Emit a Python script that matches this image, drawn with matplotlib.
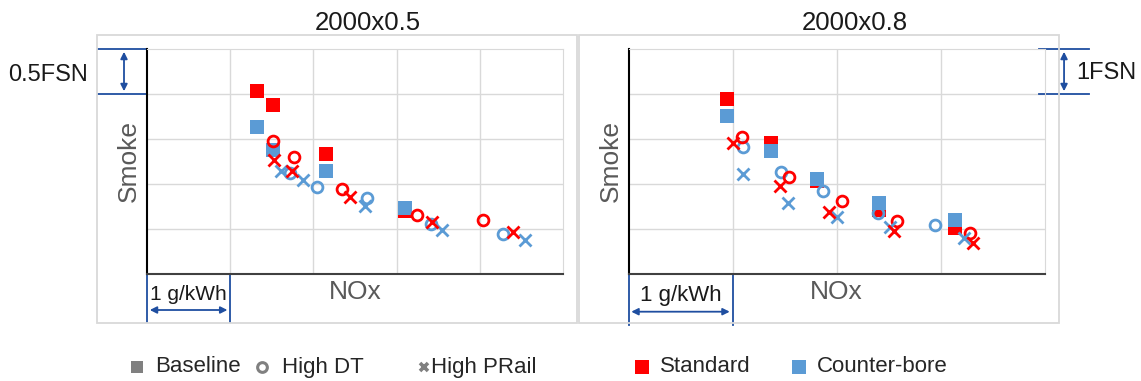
import matplotlib as mpl
mpl.use('Agg')
import matplotlib.pyplot as plt
from matplotlib.lines import Line2D
from matplotlib.patches import Rectangle

plt.rcParams['font.family'] = ['Liberation Sans', 'DejaVu Sans']

RED = '#ff0000'
BLUE = '#5b9bd5'
GRID = '#d9d9d9'
BRACKET = '#1f4ea0'
LABEL = '#595959'

titles = ['2000x0.5', '2000x0.8']
smoke_units = ['0.5FSN', '1FSN']
smoke_step = [0.5, 1.0]
nox_span = [5, 4]

# 2000x0.5 -- NOx (g/kWh, relative to axis origin), smoke (FSN)
a_std_base_nox = [1.32, 1.52, 2.15, 3.10]
a_std_base_smoke = [2.03, 1.88, 1.33, 0.70]
a_cb_base_nox = [1.32, 1.51, 2.15, 3.10]
a_cb_base_smoke = [1.63, 1.38, 1.14, 0.73]
a_std_dt_nox = [1.51, 1.77, 2.34, 3.25, 4.04]
a_std_dt_smoke = [1.48, 1.30, 0.95, 0.66, 0.60]
a_cb_dt_nox = [1.72, 2.04, 2.64, 3.41, 4.28]
a_cb_dt_smoke = [1.12, 0.97, 0.84, 0.56, 0.45]
a_std_pr_nox = [1.53, 1.74, 2.44, 3.42, 4.40]
a_std_pr_smoke = [1.27, 1.14, 0.86, 0.58, 0.47]
a_cb_pr_nox = [1.61, 1.88, 2.62, 3.54, 4.54]
a_cb_pr_smoke = [1.14, 1.04, 0.76, 0.49, 0.38]

# 2000x0.8
b_std_base_nox = [0.95, 1.37, 1.81, 2.41, 3.14]
b_std_base_smoke = [3.88, 2.91, 2.07, 1.42, 1.02]
b_cb_base_nox = [0.95, 1.37, 1.81, 2.41, 3.14]
b_cb_base_smoke = [3.51, 2.73, 2.11, 1.58, 1.20]
b_std_dt_nox = [1.09, 1.54, 2.05, 2.58, 3.28]
b_std_dt_smoke = [3.05, 2.16, 1.63, 1.18, 0.92]
b_cb_dt_nox = [1.10, 1.47, 1.87, 2.40, 2.95]
b_cb_dt_smoke = [2.83, 2.27, 1.84, 1.36, 1.09]
b_std_pr_nox = [1.00, 1.46, 1.93, 2.55, 3.31]
b_std_pr_smoke = [2.92, 1.96, 1.38, 0.96, 0.70]
b_cb_pr_nox = [1.10, 1.53, 2.00, 2.51, 3.23]
b_cb_pr_smoke = [2.22, 1.58, 1.27, 1.05, 0.79]

panels = [
    [(a_std_base_nox, a_std_base_smoke, 's', RED), (a_cb_base_nox, a_cb_base_smoke, 's', BLUE),
     (a_cb_dt_nox, a_cb_dt_smoke, 'o', BLUE), (a_cb_pr_nox, a_cb_pr_smoke, 'x', BLUE),
     (a_std_dt_nox, a_std_dt_smoke, 'o', RED), (a_std_pr_nox, a_std_pr_smoke, 'x', RED)],
    [(b_std_base_nox, b_std_base_smoke, 's', RED), (b_cb_base_nox, b_cb_base_smoke, 's', BLUE),
     (b_cb_dt_nox, b_cb_dt_smoke, 'o', BLUE), (b_cb_pr_nox, b_cb_pr_smoke, 'x', BLUE),
     (b_std_dt_nox, b_std_dt_smoke, 'o', RED), (b_std_pr_nox, b_std_pr_smoke, 'x', RED)],
]

W, H = 1141, 381
fig = plt.figure(figsize=(W / 100, H / 100), dpi=100)

def fx(px): return px / W
def fy(py): return 1 - py / H

# panel frames
for x0, x1 in [(97, 577), (579, 1059)]:
    fig.add_artist(Rectangle((fx(x0), fy(323)), fx(x1 - x0), (323 - 34.5) / H,
                             transform=fig.transFigure, fill=False, ec=GRID, lw=1.3))

axes_left = [147, 628.5]
title_x = [368, 855]
gkwh_size = [15, 16]
for i in range(2):
    ax = fig.add_axes([fx(axes_left[i]), fy(274), fx(416), 225 / H])
    step = smoke_step[i]
    ax.set_xlim(0, nox_span[i])
    ax.set_ylim(0, 5 * step)
    ax.set_xticks(range(1, nox_span[i]))
    ax.set_yticks([step * k for k in range(1, 5)])
    ax.tick_params(length=0, labelleft=False, labelbottom=False)
    ax.grid(True, color=GRID, lw=1)
    ax.set_axisbelow(True)
    ax.spines['left'].set_color('black')
    ax.spines['bottom'].set_color('#404040')
    for s in ['top', 'right']:
        ax.spines[s].set_color(GRID)
    ax.spines['left'].set_linewidth(1.5)
    ax.spines['bottom'].set_linewidth(1.5)

    for nox, smoke, m, c in panels[i]:
        if m == 's':
            ax.plot(nox, smoke, ls='none', marker='s', ms=9.6, mew=0, color=c, zorder=3)
        elif m == 'o':
            ax.plot(nox, smoke, ls='none', marker='o', ms=7.8, mew=2.0, mfc='none', mec=c, zorder=4)
        else:
            ax.plot(nox, smoke, ls='none', marker='x', ms=8, mew=2.0, color=c, zorder=5)

    ax.text(-0.043, 0.5, 'Smoke', transform=ax.transAxes, rotation=90, ha='center', va='center',
            fontsize=19, color=LABEL)
    ax.text(0.5, -0.08, 'NOx', transform=ax.transAxes, ha='center', va='center',
            fontsize=19, color=LABEL)
    fig.text(fx(title_x[i]), fy(23), titles[i], ha='center', va='center', fontsize=18.5, color='#1a1a1a')

    # 1 g/kWh bracket
    ybot = -(322 - 274) / 45 * step if i == 0 else -(325 - 274) / 45 * step
    yarr = -(310 - 274) / 45 * step if i == 0 else -(311.7 - 274) / 45 * step
    for xv in [0, 1]:
        ax.plot([xv, xv], [0, ybot], color=BRACKET, lw=1.3, clip_on=False)
    ax.annotate('', xy=(0, yarr), xytext=(1, yarr),
                arrowprops=dict(arrowstyle='<|-|>', color=BRACKET, lw=1.3, mutation_scale=10),
                annotation_clip=False)
    ax.text(0.5, -(295 - 274) / 45 * step, '1 g/kWh', ha='center', va='center',
            fontsize=gkwh_size[i], color='#1a1a1a')

    # smoke bracket
    top = 5 * step
    if i == 0:
        xa, xb, xarr = -49 / 83.2, 0, -23 / 83.2
    else:
        xa, xb, xarr = 3.947, 4.428, 4.188
    for yv in [top, top - step]:
        ax.plot([xa, xb], [yv, yv], color=BRACKET, lw=1.3, clip_on=False)
    ax.annotate('', xy=(xarr, top), xytext=(xarr, top - step),
                arrowprops=dict(arrowstyle='<|-|>', color=BRACKET, lw=1.3, mutation_scale=10),
                annotation_clip=False)

fig.text(fx(48), fy(75), smoke_units[0], ha='center', va='center', fontsize=17, color='#1a1a1a')
fig.text(fx(1106), fy(73), smoke_units[1], ha='center', va='center', fontsize=17, color='#1a1a1a')

# legend row
leg_y = 367
items = [
    (137, 's', '#808080', 'Baseline', 155, 8.5),
    (262, 'o', '#808080', 'High DT', 282, 7),
    (424, 'x', '#808080', 'High PRail', 431, 6),
    (642, 's', RED, 'Standard', 660, 10),
    (799, 's', BLUE, 'Counter-bore', 817, 10),
]
for mx, m, c, lab, tx, ms in items:
    if m == 's':
        h = Line2D([fx(mx)], [fy(leg_y)], marker='s', ms=ms, mew=0, color=c, ls='none')
    elif m == 'o':
        h = Line2D([fx(mx)], [fy(leg_y)], marker='o', ms=ms, mew=2.2, mfc='none', mec=c, ls='none')
    else:
        h = Line2D([fx(mx)], [fy(leg_y)], marker='x', ms=ms, mew=2.6, color=c, ls='none')
    h.set_transform(fig.transFigure)
    fig.add_artist(h)
    fig.text(fx(tx), fy(leg_y), lab, ha='left', va='center', fontsize=16, color='#262626')

fig.savefig('out.png', dpi=100)
